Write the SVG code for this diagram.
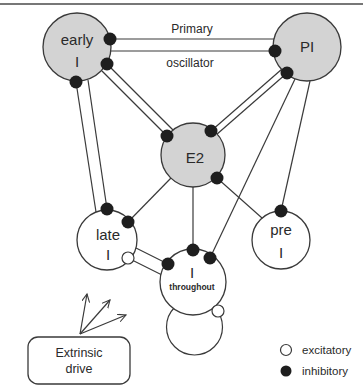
<svg xmlns="http://www.w3.org/2000/svg" width="363" height="390" viewBox="0 0 363 390">
<style>
.bg{fill:#ffffff}
.ln{stroke:#3a3a3a;stroke-width:1.2;fill:none}
.node{stroke:#3a3a3a;stroke-width:1.3}
.grey{fill:#d3d3d3}
.white{fill:#ffffff}
.inh{fill:#1e1e1e}
.exc{fill:#ffffff;stroke:#3a3a3a;stroke-width:1.2}
.t{font-family:"Liberation Sans",Arial,sans-serif;fill:#2a2a2a;text-anchor:middle}
.big{font-size:15px}
.sm{font-size:12px}
.xs{font-size:8.5px;font-weight:bold}
.lg{font-family:"Liberation Sans",Arial,sans-serif;fill:#2a2a2a;font-size:11.5px}
</style>
<defs>
<marker id="arr" markerWidth="10" markerHeight="10" refX="8" refY="4" orient="auto" markerUnits="userSpaceOnUse">
<path d="M0,0 L8,4 L0,8" fill="none" stroke="#3a3a3a" stroke-width="1.1"/>
</marker>
</defs>
<rect class="bg" x="0" y="0" width="363" height="390"/>
<line x1="0" y1="4" x2="363" y2="4" stroke="#777" stroke-width="2"/>

<g id="connectors">
<line class="ln" x1="110" y1="39" x2="274" y2="39"/>
<line class="ln" x1="111" y1="51" x2="275" y2="51"/>
<line class="ln" x1="102" y1="71" x2="167" y2="136"/>
<line class="ln" x1="107" y1="64" x2="173" y2="130"/>
<line class="ln" x1="282" y1="69" x2="211" y2="131"/>
<line class="ln" x1="287" y1="73" x2="216" y2="135"/>
<line class="ln" x1="76" y1="82" x2="96" y2="212"/>
<line class="ln" x1="88" y1="80" x2="107" y2="209"/>
<line class="ln" x1="171" y1="178" x2="128" y2="222"/>
<line class="ln" x1="193" y1="187" x2="193" y2="250"/>
<line class="ln" x1="262" y1="218" x2="217" y2="178"/>
<line class="ln" x1="295" y1="79" x2="210" y2="258"/>
<line class="ln" x1="310" y1="81" x2="281" y2="211"/>
<line class="ln" x1="128" y1="258" x2="162" y2="275"/>
<line class="ln" x1="134" y1="247" x2="168" y2="264"/>
<circle class="ln" cx="194.5" cy="327" r="28"/>
<line class="ln" x1="80" y1="334" x2="87" y2="294" marker-end="url(#arr)"/>
<line class="ln" x1="80" y1="334" x2="110" y2="300" marker-end="url(#arr)"/>
<line class="ln" x1="80" y1="334" x2="126" y2="315" marker-end="url(#arr)"/>
</g>

<g id="node-earlyI">
<circle class="node grey" cx="77" cy="47" r="34"/>
<text class="t big" x="77" y="45">early</text>
<text class="t big" x="77" y="67">I</text>
</g>
<g id="node-PI">
<circle class="node grey" cx="307" cy="47" r="34"/>
<text class="t big" x="307" y="52">PI</text>
</g>
<g id="node-E2">
<circle class="node grey" cx="193" cy="155" r="32"/>
<text class="t big" x="195" y="163">E2</text>
</g>
<g id="node-lateI">
<circle class="node white" cx="107" cy="240" r="30"/>
<text class="t big" x="108" y="240">late</text>
<text class="t big" x="108" y="260">I</text>
</g>
<g id="node-preI">
<circle class="node white" cx="281" cy="240" r="29"/>
<text class="t big" x="281" y="235">pre</text>
<text class="t big" x="281" y="258">I</text>
</g>
<g id="node-Ithroughout">
<circle class="node white" cx="193" cy="282" r="33"/>
<text class="t big" x="192" y="278">I</text>
<text class="t xs" x="192" y="290">throughout</text>
</g>
<g id="node-extrinsic">
<rect class="node white" x="28" y="337" width="102" height="47" rx="10"/>
<text class="t" style="font-size:12.5px" x="79" y="357">Extrinsic</text>
<text class="t" style="font-size:12.5px" x="79" y="373">drive</text>
</g>

<g id="synapses">
<circle class="inh" cx="110" cy="39" r="6.5"/>
<circle class="inh" cx="275" cy="51" r="6.5"/>
<circle class="inh" cx="107" cy="64" r="6.5"/>
<circle class="inh" cx="76" cy="82" r="6.5"/>
<circle class="inh" cx="287" cy="73" r="6.5"/>
<circle class="inh" cx="167" cy="136" r="6.5"/>
<circle class="inh" cx="211" cy="131" r="6.5"/>
<circle class="inh" cx="217" cy="178" r="6.5"/>
<circle class="inh" cx="107" cy="209" r="6.5"/>
<circle class="inh" cx="128" cy="222" r="6.5"/>
<circle class="exc" cx="128" cy="258" r="6"/>
<circle class="inh" cx="281" cy="211" r="6.5"/>
<circle class="inh" cx="193" cy="250" r="6.5"/>
<circle class="inh" cx="210" cy="258" r="6.5"/>
<circle class="inh" cx="168" cy="264" r="6.5"/>
<circle class="exc" cx="218" cy="311" r="6"/>
</g>

<g id="labels">
<text class="t sm" x="192" y="33">Primary</text>
<text class="t sm" x="190" y="67">oscillator</text>
</g>

<g id="legend">
<circle class="exc" cx="286" cy="350" r="5.5"/>
<text class="lg" x="302" y="354">excitatory</text>
<circle class="inh" cx="286" cy="371" r="5.5"/>
<text class="lg" x="302" y="375">inhibitory</text>
</g>
</svg>
